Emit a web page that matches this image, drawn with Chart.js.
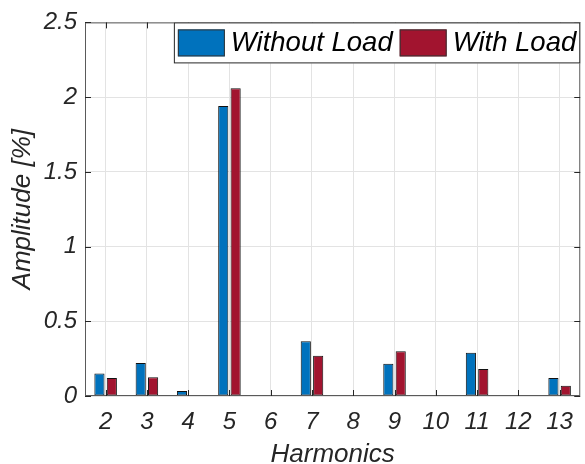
<!DOCTYPE html>
<html>
<head>
<meta charset="utf-8">
<script src="https://cdn.jsdelivr.net/npm/chart.js@4/dist/chart.umd.min.js"></script>
<style>
  html, body { margin: 0; padding: 0; background: #fff; }
  #wrap { width: 585px; height: 464px; position: relative; }
</style>
</head>
<body>
<div id="wrap"><canvas id="chart" width="585" height="464"></canvas></div>
<script>
const harmonics = ['2', '3', '4', '5', '6', '7', '8', '9', '10', '11', '12', '13'];
const withoutLoad = [0.15, 0.22, 0.033, 1.94, 0.007, 0.366, 0.007, 0.215, 0.007, 0.29, 0.007, 0.12];
const withLoad = [0.12, 0.125, 0.007, 2.06, 0.007, 0.27, 0.007, 0.30, 0.007, 0.18, 0.007, 0.068];
const yTicks = [0, 0.5, 1, 1.5, 2, 2.5];

const axisColor = '#262626';
const fontFamily = '"Liberation Sans", Arial, Helvetica, sans-serif';

// box, inward tick marks and the legend inside the plot, like the matlab figure
const boxPlugin = {
    id: 'boxPlugin',
    afterDraw(chart) {
        const { ctx, chartArea: a, scales } = chart;
        ctx.save();
        ctx.strokeStyle = '#5a5a5a';
        ctx.lineWidth = 1;
        ctx.strokeRect(a.left + 0.5, a.top + 0.5, a.right - a.left - 1, a.bottom - a.top - 1);

        ctx.strokeStyle = axisColor;
        const tl = 6;
        scales.y.ticks.forEach((t, i) => {
            const y = Math.round(scales.y.getPixelForTick(i)) + 0.5;
            ctx.beginPath();
            ctx.moveTo(a.left, y); ctx.lineTo(a.left + tl, y);
            ctx.moveTo(a.right, y); ctx.lineTo(a.right - tl, y);
            ctx.stroke();
        });
        scales.x.ticks.forEach((t, i) => {
            const x = Math.round(scales.x.getPixelForTick(i)) + 0.5;
            ctx.beginPath();
            ctx.moveTo(x, a.bottom); ctx.lineTo(x, a.bottom - tl);
            ctx.moveTo(x, a.top); ctx.lineTo(x, a.top + tl);
            ctx.stroke();
        });

        // legend
        ctx.font = 'italic 27.5px ' + fontFamily;
        const items = chart.data.datasets.map(ds => ({
            label: ds.label, color: ds.backgroundColor, w: ctx.measureText(ds.label).width
        }));
        const swW = 47, swH = 27, pad = 4, gap = 6, sep = 7;
        let total = pad;
        items.forEach((it, i) => { total += swW + gap + it.w + (i < items.length - 1 ? sep : pad); });
        const boxH = 41;
        const bx = a.right - total, by = a.top;
        ctx.fillStyle = '#fff';
        ctx.fillRect(bx, by, total, boxH);
        ctx.strokeStyle = axisColor;
        ctx.strokeRect(bx + 0.5, by + 0.5, total - 1, boxH - 1);
        let x = bx + pad;
        items.forEach(it => {
            ctx.fillStyle = it.color;
            ctx.fillRect(x, by + 7, swW, swH);
            ctx.strokeStyle = '#333';
            ctx.strokeRect(x + 0.5, by + 7.5, swW - 1, swH - 1);
            x += swW + gap;
            ctx.fillStyle = '#000';
            ctx.textBaseline = 'middle';
            ctx.textAlign = 'left';
            ctx.fillText(it.label, x, by + 21);
            x += it.w + sep;
        });
        ctx.restore();
    }
};

new Chart(document.getElementById('chart'), {
    type: 'bar',
    data: {
        labels: harmonics,
        datasets: [
            {
                label: 'Without Load',
                data: withoutLoad,
                backgroundColor: '#0072BD',
                borderColor: '#111',
                borderWidth: 1,
                borderSkipped: false
            },
            {
                label: 'With Load',
                data: withLoad,
                backgroundColor: '#A2142F',
                borderColor: '#111',
                borderWidth: 1,
                borderSkipped: false
            }
        ]
    },
    options: {
        responsive: false,
        animation: false,
        layout: { padding: { top: 20, right: 1, left: 0, bottom: 0 } },
        datasets: { bar: { categoryPercentage: 0.6, barPercentage: 0.82 } },
        plugins: {
            legend: { display: false },
            tooltip: { enabled: false }
        },
        scales: {
            x: {
                grid: { offset: false, color: '#e3e3e3', drawTicks: false },
                border: { display: false },
                ticks: {
                    color: axisColor,
                    padding: 12,
                    font: { family: fontFamily, size: 24, style: 'italic' }
                },
                title: {
                    display: true,
                    text: 'Harmonics',
                    color: axisColor,
                    padding: { top: 0, bottom: 1 },
                    font: { family: fontFamily, size: 26, style: 'italic', lineHeight: 0.6 }
                },
                afterFit: s => { s.height = 68; }
            },
            y: {
                min: 0,
                max: 2.5,
                afterBuildTicks: s => { s.ticks = yTicks.map(v => ({ value: v })); },
                grid: { color: '#e3e3e3', drawTicks: false },
                border: { display: false },
                ticks: {
                    color: axisColor,
                    padding: 8,
                    callback: v => String(v),
                    font: { family: fontFamily, size: 24, style: 'italic' }
                },
                title: {
                    display: true,
                    text: 'Amplitude [%]',
                    color: axisColor,
                    padding: { top: 7, bottom: 0 },
                    font: { family: fontFamily, size: 26, style: 'italic' }
                },
                afterFit: s => { s.width = 85; }
            }
        }
    },
    plugins: [boxPlugin]
});
</script>
</body>
</html>
